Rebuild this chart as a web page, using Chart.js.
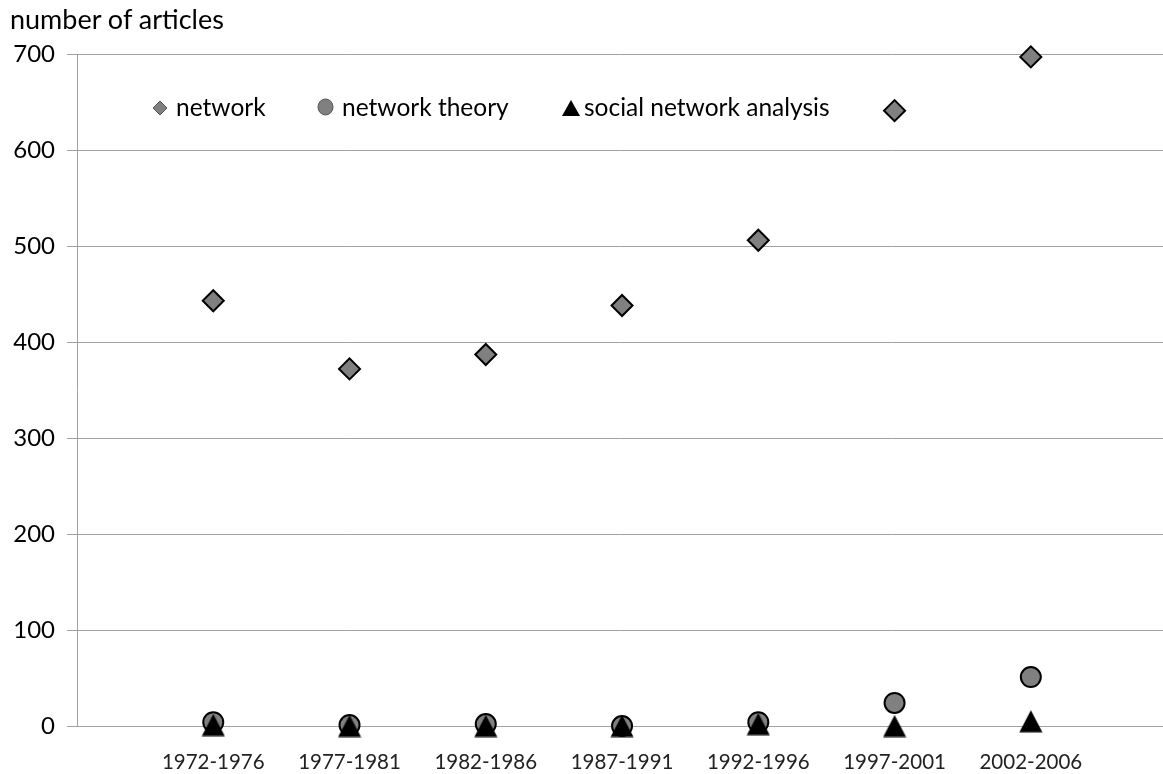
<!DOCTYPE html>
<html>
<head>
<meta charset="utf-8">
<script src="https://cdn.jsdelivr.net/npm/chart.js@4.4.1/dist/chart.umd.min.js"></script>
<style>
  body { margin: 0; background: #fff; font-family: Lato, sans-serif; }
  #wrap { position: relative; width: 1163px; height: 774px; }
  #title { position: absolute; left: 10px; top: 3px; font-size: 27px; line-height: 32px; color: #000; white-space: nowrap; }
  .lg { position: absolute; top: 93px; font-size: 24.5px; line-height: 28px; color: #000; white-space: nowrap; }
  .mk { position: absolute; }
</style>
</head>
<body>
<div id="wrap">
  <canvas id="chart" width="1163" height="774"></canvas>
  <div id="title">number of articles</div>
  <svg class="mk" style="left:152px;top:100px" width="16" height="16"><polygon points="8,1 15,8 8,15 1,8" fill="#808080" stroke="#555" stroke-width="1"/></svg>
  <div class="lg" style="left:176px">network</div>
  <svg class="mk" style="left:317px;top:98px" width="17" height="18"><ellipse cx="8.5" cy="9" rx="7.5" ry="8" fill="#808080" stroke="#555" stroke-width="1"/></svg>
  <div class="lg" style="left:342px">network theory</div>
  <svg class="mk" style="left:561px;top:99px" width="20" height="18"><polygon points="10,1 19,17 1,17" fill="#000"/></svg>
  <div class="lg" style="left:584px">social network analysis</div>
</div>
<script>
// Zeiträume und Werte
const periods = ['1972-1976', '1977-1981', '1982-1986', '1987-1991', '1992-1996', '1997-2001', '2002-2006'];
const networkValues = [443, 372, 387, 438, 506, 641, 697];
const theoryValues = [4, 1, 2, 0, 4, 24, 51];
const snaValues = [1, 0, 0, 0, 2, 0, 5];
const yTicks = [0, 100, 200, 300, 400, 500, 600, 700];

// Kategorien liegen auf 1..7, Achse geht von 0 bis knapp 8
const toPoints = vals => vals.map((v, i) => ({ x: i + 1, y: v }));

// Dreieck als Bild, damit es mittig auf dem Wert sitzt (wie in Excel)
const tri = document.createElement('canvas');
tri.width = 24; tri.height = 23;
const tctx = tri.getContext('2d');
tctx.fillStyle = '#000';
tctx.beginPath();
tctx.moveTo(12, 0.5);
tctx.lineTo(23.5, 22.5);
tctx.lineTo(0.5, 22.5);
tctx.closePath();
tctx.fill();

const ctx = document.getElementById('chart').getContext('2d');
new Chart(ctx, {
  type: 'scatter',
  data: {
    datasets: [
      {
        label: 'network',
        data: toPoints(networkValues),
        pointStyle: 'rectRot',
        pointRadius: 10.5,
        pointHoverRadius: 10.5,
        backgroundColor: '#808080',
        borderColor: '#000',
        pointBorderWidth: 2,
        clip: false,
        order: 2
      },
      {
        label: 'network theory',
        data: toPoints(theoryValues),
        pointStyle: 'circle',
        pointRadius: 10,
        pointHoverRadius: 10,
        backgroundColor: '#808080',
        borderColor: '#000',
        pointBorderWidth: 2,
        clip: false,
        order: 1
      },
      {
        label: 'social network analysis',
        data: toPoints(snaValues),
        pointStyle: tri,
        pointRadius: 12,
        backgroundColor: '#000',
        borderColor: '#000',
        clip: false,
        order: 0
      }
    ]
  },
  options: {
    responsive: false,
    animation: false,
    layout: { autoPadding: false, padding: { top: 54, right: 0, left: 0, bottom: 0 } },
    plugins: {
      legend: { display: false },
      tooltip: { enabled: false }
    },
    scales: {
      x: {
        type: 'linear',
        min: 0,
        max: 7.97,
        afterFit: s => { s.height = 48; s.paddingRight = 0; s.paddingLeft = 0; },
        afterBuildTicks: s => { s.ticks = [0, 1, 2, 3, 4, 5, 6, 7].map(v => ({ value: v })); },
        ticks: {
          autoSkip: false,
          maxRotation: 0,
          padding: 16,
          color: '#222',
          font: { family: 'Lato', size: 20.5 },
          callback: v => periods[v - 1] || ''
        },
        grid: { display: false },
        border: { display: true, color: '#a0a0a0', width: 1 }
      },
      y: {
        min: 0,
        max: 700,
        afterFit: s => { s.width = 77; },
        afterBuildTicks: s => { s.ticks = yTicks.map(v => ({ value: v })); },
        ticks: {
          padding: 12,
          color: '#000',
          font: { family: 'Lato', size: 24 }
        },
        grid: { color: '#a0a0a0', lineWidth: 1, tickLength: 10, drawTicks: true },
        border: { display: true, color: '#a0a0a0', width: 1 }
      }
    }
  }
});
</script>
</body>
</html>
